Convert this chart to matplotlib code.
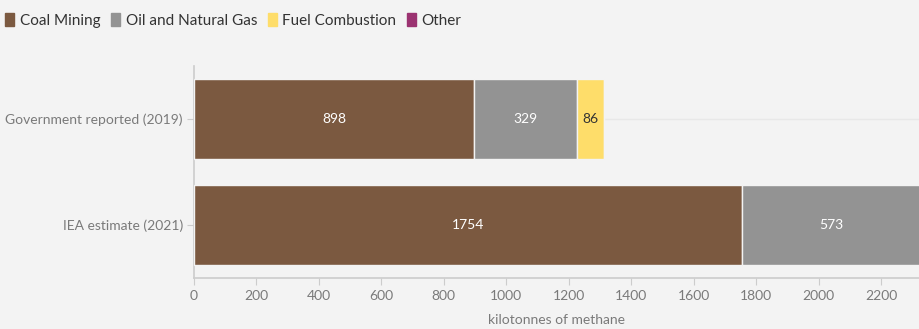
import numpy as np
import matplotlib.pyplot as plt
from matplotlib.patches import Patch

# Dados
categories = ["Government reported (2019)", "IEA estimate (2021)"]
series_names = ["Coal Mining", "Oil and Natural Gas", "Fuel Combustion", "Other"]
coal_mining = [898, 1754]
oil_gas = [329, 573]
fuel_combustion = [86, 0]
other = [0, 0]

colors = ["#7b5940", "#939393", "#fedd6a", "#9b3271"]
label_colors = ["white", "white", "#333333", "white"]
bg = "#f3f3f3"

plt.rcParams['font.family'] = ['Lato', 'DejaVu Sans']

fig = plt.figure(figsize=(9.2, 3.29), dpi=100, facecolor=bg)
ax = fig.add_axes([194 / 920, 51 / 329, 726 / 920, 212 / 329])
ax.set_facecolor(bg)

y = np.arange(len(categories))
left = np.zeros(len(categories))
for vals, col, lc in zip([coal_mining, oil_gas, fuel_combustion, other], colors, label_colors):
    vals = np.array(vals, dtype=float)
    bars = ax.barh(y, vals, left=left, height=0.75, color=col,
                   edgecolor="#f3f3f3", linewidth=1.0, zorder=3)
    for b, v in zip(bars, vals):
        if v > 0:
            ax.text(b.get_x() + b.get_width() / 2, b.get_y() + b.get_height() / 2,
                    f"{int(v)}", ha="center", va="center", color=lc,
                    fontsize=10, zorder=4, clip_on=True)
    left += vals

ax.set_xlim(0, 2325)
ax.set_ylim(1.5, -0.5)
ax.set_yticks(y)
ax.set_yticklabels(categories)
ax.set_xticks(np.arange(0, 2201, 200))

# grade horizontal discreta
ax.grid(axis="y", color="#e8e8e8", linewidth=1, zorder=0)

for s in ["top", "right"]:
    ax.spines[s].set_visible(False)
for s in ["left", "bottom"]:
    ax.spines[s].set_color("#cccccc")
    ax.spines[s].set_linewidth(1.2)

ax.tick_params(axis="both", colors="#cccccc", labelcolor="#7a7a7a", length=5)
ax.tick_params(axis="y", labelsize=10, pad=3)
ax.tick_params(axis="x", labelsize=10, pad=4)

ax.set_xlabel("kilotonnes of methane", color="#7a7a7a", fontsize=10, labelpad=8)

handles = [Patch(facecolor=c, edgecolor=c) for c in colors]
fig.legend(handles, series_names, loc="upper left", bbox_to_anchor=(-0.006, 0.994),
           ncol=4, frameon=False, fontsize=11, handlelength=0.6, handleheight=1.0,
           handletextpad=0.35, columnspacing=0.7, labelcolor="#333333",
           borderaxespad=0.3)

fig.savefig("out.png", dpi=100, facecolor=bg)
